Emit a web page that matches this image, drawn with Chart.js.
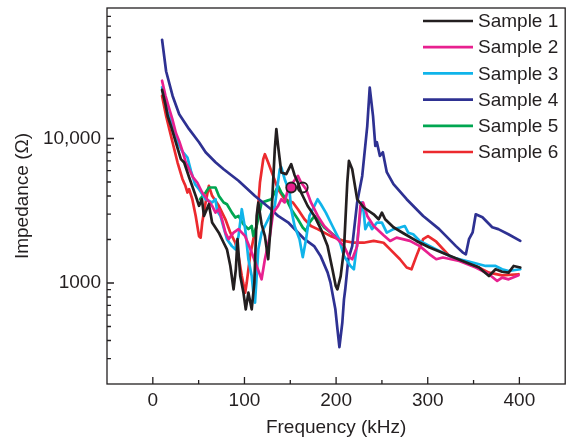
<!DOCTYPE html>
<html>
<head>
<meta charset="utf-8">
<script src="https://cdn.jsdelivr.net/npm/chart.js@4.4.1/dist/chart.umd.min.js"></script>
<style>
html,body{margin:0;padding:0;background:#fff;}
#wrap{width:572px;height:440px;}
</style>
</head>
<body>
<div id="wrap"><canvas id="c" width="572" height="440"></canvas></div>
<script>
// ---- data (frequency kHz, impedance ohm) ----
const SERIES_NAMES = ['Sample 1','Sample 2','Sample 3','Sample 4','Sample 5','Sample 6'];
const SERIES_COLORS = ['#231f20','#e8208f','#10b4ea','#2e3192','#00a651','#ec2a2e'];

const S1_F = [10.1,13.7,16.2,20.2,25.2,30.6,34.2,39.6,46.8,50.4,53.6,55.8,61.2,64.7,72,77.3,80.9,84.6,88.1,90.6,92.4,95.4,98.9,101.4,104.3,107.9,110.8,113.3,115.1,118.7,122.3,125.9,129.4,133.1,134.8,136.7,140.2,145.6,151,154.7,158.3,161.8,169,176.3,183.4,190.7,196,199.6,201.4,205,208.6,212.2,214,217.6,223,230.2,241,246.4,250,253.5,262.6,273.4,287.7,302,320,338,356,366.8,374,381.2,388.3,393.7,401];
const S1_Z = [21700,17300,14300,12000,9380,7200,6820,5390,4010,3420,3800,2910,3510,2620,2230,1900,1710,1310,904,1245,2010,1117,857,657,857,657,1007,2910,3600,2550,2110,1460,2910,8440,11600,8890,5820,5670,6640,5570,4960,4230,3410,2910,2360,1800,1245,954,904,1117,1710,4960,7000,6120,3800,3330,2990,2760,3070,2760,2430,2210,1955,1760,1580,1420,1280,1118,1245,1196,1180,1312,1280];

const S2_F = [10.1,13.7,18,21.3,25.2,28.8,32.4,36,39.6,43.9,48.5,53.9,59.3,64.7,68.4,72,75.5,79.2,82.7,88.1,93.5,100.8,107.9,113.3,118.7,122.3,127.7,131.3,136.7,140.2,143.9,147.5,152.9,158.3,161.8,167.2,172.6,180,187,194.2,201.4,208.6,214.3,217.6,223,226.5,229.4,234,241,251.8,259,266,280.5,291.3,302,309.3,316.5,334.4,352.4,366.8,375.8,381.2,388.3,399.1];
const S2_Z = [25100,19900,15960,13600,10900,9580,8160,6820,6130,5390,4960,4230,3800,3420,3070,3240,2760,2230,2010,2230,2360,2110,1625,1312,1060,1460,2110,3070,3420,3800,3610,4460,4960,5510,4960,4460,3610,2910,2480,2230,2010,1800,1510,1460,1800,3420,3610,2910,2480,2140,1955,2060,1955,1800,1580,1460,1500,1420,1280,1150,1033,1090,1060,1130];

const S3_F = [10.1,15.9,21.3,26.6,32,37.8,41.7,46,50.4,57.6,64.7,68.4,70.1,73.8,77.3,80.9,86.3,90,93.5,97.1,100.8,104.3,107.9,109.7,111.5,113.3,115.1,118.7,122.3,127.7,133.1,138.5,140.2,143.9,149.3,151,154.7,160.1,163.6,167.2,170.9,176.3,179.8,183.4,188.8,196,203.2,208.6,215.7,219.4,223,226.5,228.3,230.2,231.9,235.6,239.2,244.6,250,255.3,262.6,269.7,275,278.7,284.1,291.3,309.3,327.3,348.9,363.2,374,381.2,388.3,401];
const S3_Z = [22600,15400,12400,9580,8170,7380,5940,4830,4460,3800,3610,3800,3160,2910,2420,2010,1800,1710,2110,3240,2360,1460,1117,857,731,1117,1710,2230,2480,2910,3420,6120,6320,5230,4230,3240,2480,2010,1510,2010,2910,3420,3800,3510,3070,2480,2010,1540,1312,1245,1900,3070,3610,3070,2360,2620,2360,2620,2620,2230,2360,2420,2480,2230,2175,1955,1710,1500,1385,1312,1312,1245,1210,1245];

const S4_F = [10.1,14.5,21.6,28.8,39.6,50.4,57.6,68.4,77.3,93.5,111.5,129,136.7,147.5,165.5,176,183,190.7,193.8,199.2,201.5,203.6,206.8,208.6,210,213.3,217.6,223,228.5,234,236.7,240.3,242.8,244.5,247.8,251,255.3,262.6,277,295,312.5,330.8,338,341.6,345,349,352.4,359.7,370.4,377,388,401];
const S4_Z = [48200,29200,19700,14700,11600,9420,8040,6850,6130,5100,4000,3240,2910,2630,2010,1800,1540,1185,1010,657,478,360,533,771,905,1460,1800,3620,5510,12200,22500,14300,8890,9420,7580,8030,5850,4830,3800,2910,2360,1800,1630,1580,2010,2240,2990,2850,2430,2360,2175,1955];

const S5_F = [51.5,57.6,61.2,68.4,72,77.3,80.9,86.3,90,93.5,98.9,104.3,107.9,109.7,113.3,118.7,124.1,129.4,133.1,136.7,140.2,145.6,151,158.3,163.6,167.2,170.9,176.3,181.7,187,194.2,203.2];
const S5_Z = [3800,4230,4580,4580,4010,3610,3510,3070,2840,2910,2550,2360,2480,2110,2480,3610,3700,3800,4230,4700,4230,3800,3240,2760,2420,2290,2620,2900,2680,2420,2230,2010];

const S6_F = [10.1,14.5,18,21.6,27,32.4,35.3,37.8,39.6,43.1,46.8,50.4,52.2,53.9,57.6,61.2,64.7,72,79.2,84.6,90,93.5,97.1,100.8,102.5,106.1,109.7,113.3,116.9,120.5,122.3,125.9,131.3,136.7,143.9,152.9,158.3,165.5,172.6,179.8,194.2,208.6,219.4,230.2,241,251.8,259,269.7,277,282.3,287.7,294.9,300.3,309.3,323.6,338,352.4,366.8,381.2,399.1];
const S6_Z = [19700,14300,11600,9380,6820,5230,4750,4230,4460,3800,2910,2110,2060,2620,3610,4700,4010,3420,2760,2230,1900,1540,1117,857,1007,1540,2010,2480,4960,7190,7790,6820,5510,4460,3800,3610,3240,2760,2480,2360,2110,1955,1900,1900,1955,1900,1710,1460,1280,1245,1540,2010,2110,1930,1540,1410,1312,1180,1130,1150];

// two circle markers seen near 150-165 kHz
const MARK_F = [151, 163.6];
const MARK_Z = [4580, 4580];

// axis ticks
const X_MIN = -50, X_MAX = 450;
const Y_MIN = 200, Y_MAX = 80000;
const TICK_X = [0,100,200,300,400];
const MINOR_X = [50,150,250,350];
const TICK_Y = [1000,10000];
const TICK_Y_LABELS = ['1000','10,000'];
const MINOR_Y = [200,300,400,500,600,700,800,900,2000,3000,4000,5000,6000,7000,8000,9000,20000,30000,40000,50000,60000,70000];

const FONT = '"Liberation Sans", Arial, Helvetica, sans-serif';
const INK = '#231f20';

const allF = [S1_F,S2_F,S3_F,S4_F,S5_F,S6_F];
const allZ = [S1_Z,S2_Z,S3_Z,S4_Z,S5_Z,S6_Z];
const pts = (f,z) => f.map((v,i)=>({x:v,y:z[i]}));

const datasets = SERIES_NAMES.map((name,i)=>({
  label:name,
  data:pts(allF[i],allZ[i]),
  borderColor:SERIES_COLORS[i],
  backgroundColor:SERIES_COLORS[i],
  borderWidth:2.7,
  pointRadius:0,
  tension:0,
  borderJoinStyle:'round',
  borderCapStyle:'round',
  fill:false,
  order:i+1
}));
datasets.push({
  label:'markers',
  data:pts(MARK_F,MARK_Z),
  showLine:false,
  pointRadius:5,
  pointBorderWidth:1.8,
  pointBorderColor:INK,
  pointBackgroundColor:[SERIES_COLORS[1],'rgba(255,255,255,0)'],
  order:0
});

const decoPlugin = {
  id:'deco',
  afterDraw(chart){
    const {ctx, chartArea:a, scales:{x,y}} = chart;
    ctx.save();
    ctx.strokeStyle = INK;
    ctx.lineWidth = 1.3;
    ctx.strokeRect(a.left, a.top, a.right-a.left, a.bottom-a.top);
    ctx.beginPath();
    TICK_X.forEach(v=>{const p=x.getPixelForValue(v); ctx.moveTo(p,a.bottom); ctx.lineTo(p,a.bottom-7);});
    MINOR_X.forEach(v=>{const p=x.getPixelForValue(v); ctx.moveTo(p,a.bottom); ctx.lineTo(p,a.bottom-4);});
    TICK_Y.forEach(v=>{const p=y.getPixelForValue(v); ctx.moveTo(a.left,p); ctx.lineTo(a.left+7,p);});
    MINOR_Y.forEach(v=>{const p=y.getPixelForValue(v); if(p>a.top+1&&p<a.bottom-1){ctx.moveTo(a.left,p); ctx.lineTo(a.left+4,p);}});
    ctx.stroke();
    // legend
    ctx.font = '19px ' + FONT;
    ctx.textBaseline = 'middle';
    ctx.textAlign = 'left';
    SERIES_NAMES.forEach((name,i)=>{
      const yy = 21 + i*26.2;
      ctx.strokeStyle = SERIES_COLORS[i];
      ctx.lineWidth = 2.7;
      ctx.beginPath(); ctx.moveTo(423,yy); ctx.lineTo(473,yy); ctx.stroke();
      ctx.fillStyle = INK;
      ctx.fillText(name, 478, yy+1);
    });
    ctx.restore();
  }
};

new Chart(document.getElementById('c'), {
  type:'line',
  data:{datasets},
  options:{
    responsive:false,
    animation:false,
    layout:{padding:{top:8,right:2,left:0,bottom:0}},
    plugins:{legend:{display:false},tooltip:{enabled:false}},
    scales:{
      x:{
        type:'linear', min:X_MIN, max:X_MAX,
        grid:{display:false, drawTicks:false},
        border:{display:false},
        afterBuildTicks:s=>{s.ticks = TICK_X.map(v=>({value:v}));},
        afterFit:s=>{s.height = 56; s.paddingLeft = 0; s.paddingRight = 0;},
        ticks:{padding:5, color:INK, font:{size:19,family:FONT}, maxRotation:0, callback:v=>String(v)},
        title:{display:true, text:'Frequency (kHz)', color:INK, font:{size:19,family:FONT}, padding:{top:0,bottom:1}}
      },
      y:{
        type:'logarithmic', min:Y_MIN, max:Y_MAX,
        grid:{display:false, drawTicks:false},
        border:{display:false},
        afterBuildTicks:s=>{s.ticks = TICK_Y.map(v=>({value:v}));},
        afterFit:s=>{s.width = 107; s.paddingTop = 0; s.paddingBottom = 0;},
        ticks:{padding:6, color:INK, font:{size:19,family:FONT}, callback:(v)=>{const k=TICK_Y.indexOf(v); return k>=0?TICK_Y_LABELS[k]:'';}},
        title:{display:true, text:'Impedance (Ω)', color:INK, font:{size:19,family:FONT}, padding:{top:11,bottom:0}}
      }
    }
  },
  plugins:[decoPlugin]
});
</script>
</body>
</html>
